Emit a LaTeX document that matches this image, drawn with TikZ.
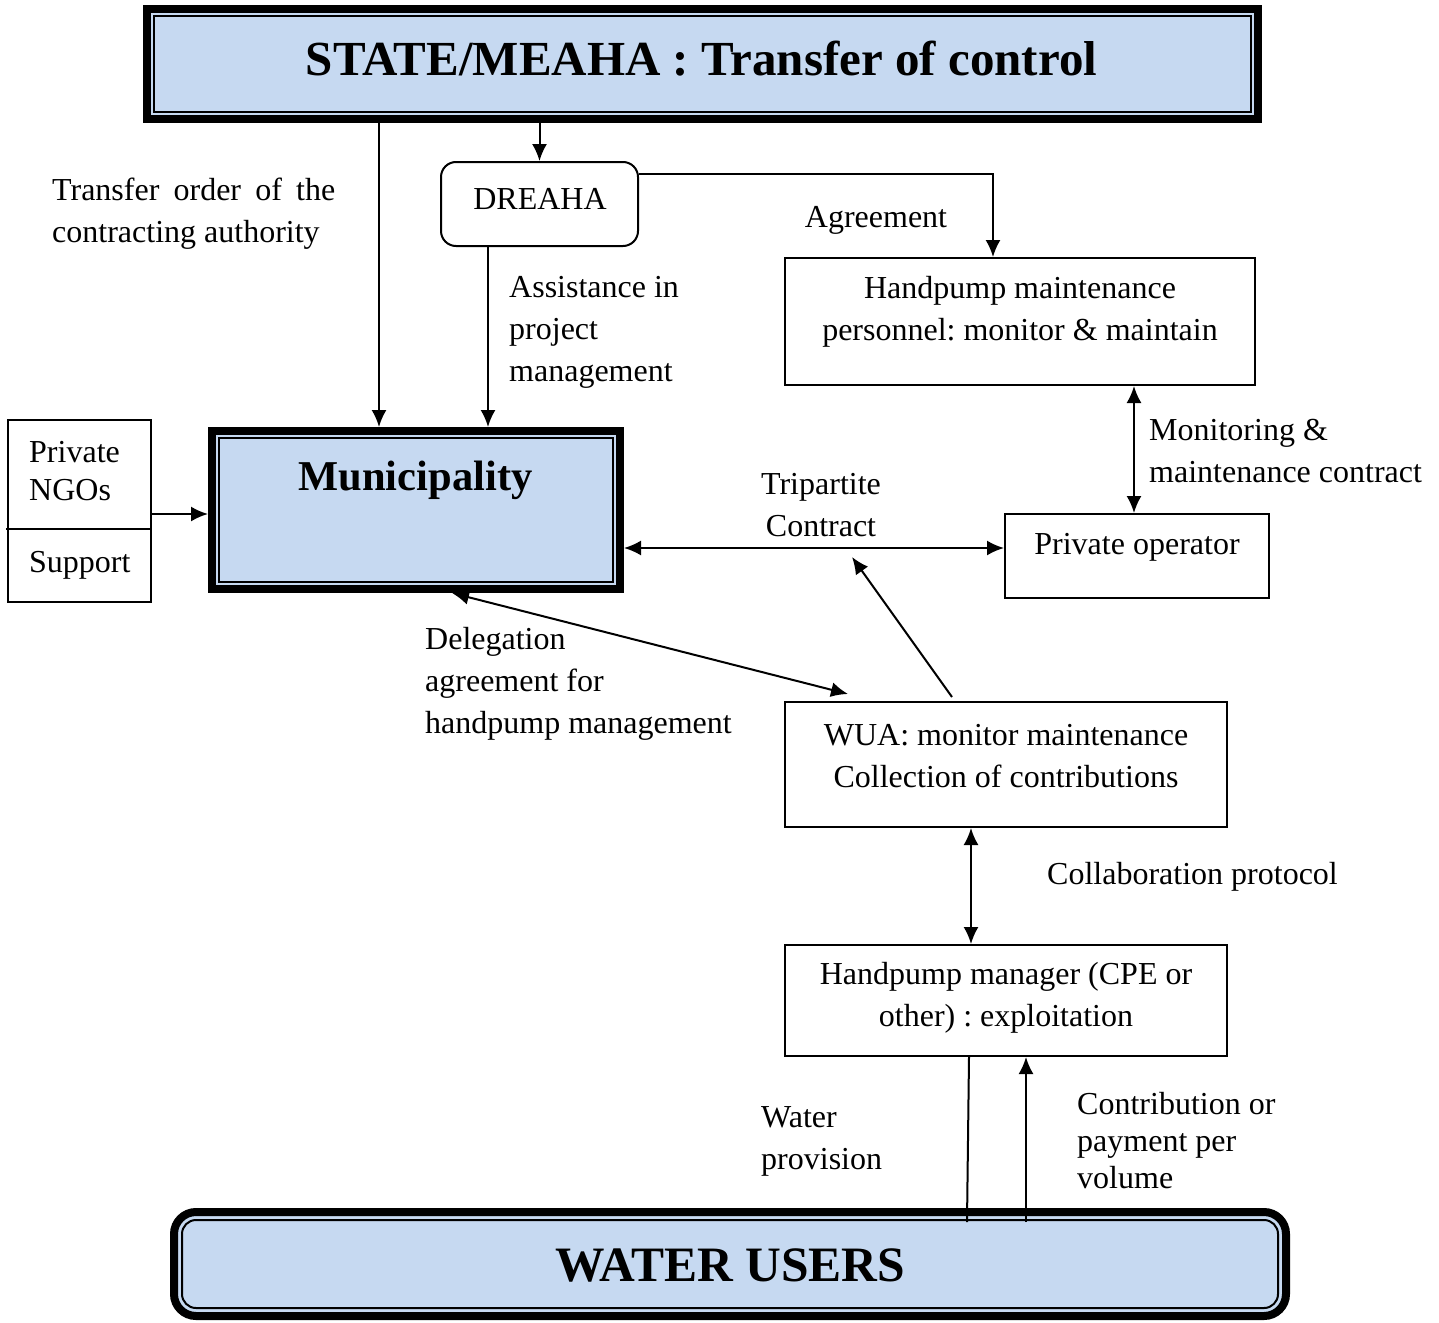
\documentclass[tikz,border=0pt]{standalone}
\usepackage{fontspec}
\setmainfont{Liberation Serif}
\usetikzlibrary{arrows.meta}

\definecolor{boxblue}{RGB}{198,217,241}
\frenchspacing

\tikzset{
	txt/.style = {font=\fontsize{32}{42}\selectfont, inner sep=0pt, yshift=-3pt},
	head/.style = {font=\fontsize{49}{56}\selectfont\bfseries, inner sep=0pt},
	box/.style = {draw, line width=2pt},
	mainbox/.style = {draw, line width=8pt, fill=boxblue},
	link/.style = {line width=2pt}
}

\begin{document}
\begin{tikzpicture}[x=1pt, y=-1pt, >={Latex[length=17pt,width=15pt]}]

\useasboundingbox (0,0) rectangle (1439,1322);

% main boxes
\node[mainbox, minimum width=1111, minimum height=110] (state) at (702.5,64) {};
\node[mainbox, minimum width=408, minimum height=158] (muni) at (416,510) {};
\node[mainbox, rounded corners=22pt, minimum width=1112, minimum height=104] (users) at (730,1264) {};
\foreach \b in {state, muni}
	\draw[line width=2pt] ([shift={(11,11)}]\b.north west) rectangle ([shift={(-11,-11)}]\b.south east);
\draw[line width=2pt, rounded corners=14pt] ([shift={(12,12)}]users.north west) rectangle ([shift={(-12,-12)}]users.south east);

\node[head] (state-txt) at (701.5,59) {STATE/MEAHA : Transfer of control};
\node[head, font=\fontsize{42.5}{50}\selectfont\bfseries] (muni-txt) at (415.5,480) {Municipality};
\node[head, font=\fontsize{49.5}{56}\selectfont\bfseries] (users-txt) at (730,1265) {WATER USERS};

% other boxes
\node[box, rounded corners=15pt, minimum width=197, minimum height=84] (dreaha) at (539.5,204) {};
\node[box, minimum width=470, minimum height=127] (hpm) at (1020,321.5) {};
\node[box, minimum width=264, minimum height=84] (privop) at (1137,556) {};
\node[box, minimum width=442, minimum height=125] (wua) at (1006,764.5) {};
\node[box, minimum width=442, minimum height=111] (manager) at (1006,1000.5) {};
\node[box, minimum width=143, minimum height=182] (ngo) at (79.5,511) {};
\draw[line width=2pt] ([xshift=-1pt]ngo.west |- 0,529) -- (ngo.east |- 0,529);

\node[txt] (dreaha-txt) at (540,196) {DREAHA};
\node[txt, align=center] (hpm-txt) at (1020,309) {Handpump maintenance\\personnel: monitor \& maintain};
\node[txt] (privop-txt) at (1137,544) {Private operator};
\node[txt, align=center] (wua-txt) at (1006,753) {WUA: monitor maintenance\\Collection of contributions};
\node[txt, align=center] (manager-txt) at (1006,995) {Handpump manager (CPE or\\other) : exploitation};
\node[txt, align=left, font=\fontsize{32}{38}\selectfont, anchor=west] (ngo-txt) at (29,468) {Private\\NGOs};
\node[txt, anchor=west] (support-txt) at (29,562) {Support};

% labels
\node[txt, anchor=west, text width=283pt, align=justify] (transfer) at (52,211) {Transfer order of the contracting authority};
\node[txt] (agree) at (876,217) {Agreement};
\node[txt, anchor=west, align=left] (assist) at (509,329) {Assistance in\\project\\management};
\node[txt, anchor=west, align=left] (monit) at (1149,448) {Monitoring \&\\maintenance contract};
\node[txt, align=center] (tripart) at (821,502) {Tripartite\\Contract};
\node[txt, anchor=west, align=left] (deleg) at (425,681) {Delegation\\agreement for\\handpump management};
\node[txt, anchor=west] (collab) at (1047,874) {Collaboration protocol};
\node[txt, anchor=west, align=left] (water) at (761,1138) {Water\\provision};
\node[txt, anchor=west, align=left, font=\fontsize{32}{37}\selectfont] (contrib) at (1077,1138) {Contribution or\\payment per\\volume};

% connectors
\coordinate (tri) at (852,557);
\draw[link, ->] (state.south -| 379,0) -- (muni.north -| 379,0);
\draw[link, ->] (state.south -| dreaha.north) -- (dreaha.north);
\draw[link, ->] (dreaha.south -| 488,0) -- (muni.north -| 488,0);
\draw[link, ->] (dreaha.east |- 0,174) -| (hpm.north -| 993,0);
\draw[link, <->] (hpm.south -| 1134,0) -- (privop.north -| 1134,0);
\draw[link, <->] (muni.east |- 0,548) -- (privop.west |- 0,548);
\draw[link, ->] (ngo.east |- 0,514) -- (muni.west |- 0,514);
\draw[link, ->] ([yshift=4pt]wua.north -| 952,0) -- (tri);
\draw[link, <->] (muni.south -| 452,0) -- ([yshift=7pt]wua.north -| 848,0);
\draw[link, <->] (wua.south -| 971,0) -- (manager.north -| 971,0);
\draw[link] (manager.south -| 969,0) -- ([yshift=-14pt]users.north -| 967,0);
\draw[link, ->] ([yshift=-14pt]users.north -| 1026,0) -- (manager.south -| 1026,0);

\end{tikzpicture}
\end{document}
